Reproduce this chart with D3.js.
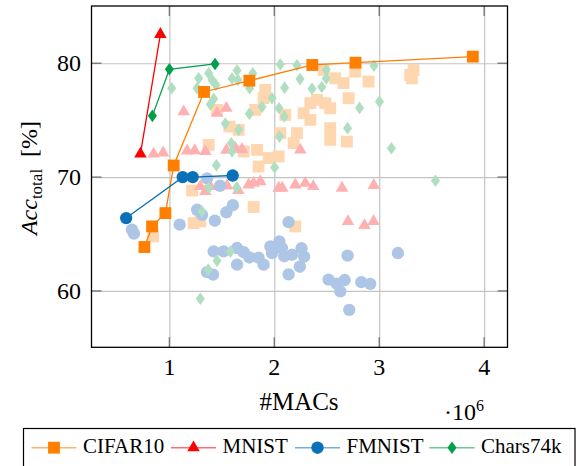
<!DOCTYPE html>
<html>
<head>
<meta charset="utf-8">
<script src="https://cdn.jsdelivr.net/npm/d3@7"></script>
<style>
  html, body { margin: 0; padding: 0; background: #fff; }
  svg { display: block; font-family: "Liberation Serif", "DejaVu Serif", serif; }
</style>
</head>
<body>
<svg id="chart" width="585" height="466"></svg>
<script>
// x values are MACs in millions (axis shows them with a 10^6 factor), y is total accuracy in %

// Pareto fronts (dark markers, joined by a line)
var cifarFront = [[0.762, 63.86], [0.835, 65.67], [0.962, 66.84], [1.041, 71.02], [1.330, 77.48],
  [1.762, 78.47], [2.362, 79.85], [2.774, 80.05], [3.892, 80.58]];
var mnistFront = [[0.724, 72.04], [0.914, 82.54]];
var fmnistFront = [[0.588, 66.40], [1.127, 70.00], [1.222, 70.00], [1.603, 70.14]];
var charsFront = [[0.838, 75.38], [1.000, 79.47], [1.435, 79.94]];

// all other evaluated networks (light markers)
var cifarAll = [[0.845, 64.79], [1.216, 68.82], [1.231, 65.96], [1.295, 66.11], [1.803, 67.37], [2.200, 65.67],
  [1.374, 72.83], [1.454, 75.90], [1.571, 74.44], [1.660, 74.15], [1.708, 72.25], [1.835, 72.39],
  [1.850, 70.93], [1.946, 71.67], [2.041, 71.81], [2.057, 73.86], [2.216, 73.86], [2.184, 72.98],
  [1.819, 75.90], [1.898, 76.93], [1.914, 77.66], [2.105, 75.46], [2.279, 75.61], [2.343, 75.03],
  [2.343, 76.49], [2.407, 76.78], [2.486, 76.49], [2.533, 76.05], [2.470, 79.41], [2.581, 78.68],
  [2.660, 78.25], [2.771, 79.26], [2.898, 78.39], [2.708, 76.93], [2.533, 74.30], [2.533, 73.27],
  [2.692, 73.12], [3.295, 78.97], [3.327, 79.41], [3.311, 78.68]];
var mnistAll = [[0.850, 72.04], [0.940, 72.13], [1.136, 75.75], [1.169, 72.31], [1.241, 72.33], [1.343, 72.25],
  [1.454, 75.61], [1.543, 76.05], [1.543, 72.37], [1.629, 72.54], [1.692, 72.44], [2.248, 72.39],
  [1.295, 69.18], [1.390, 69.18], [1.550, 69.24], [1.657, 68.84], [1.755, 69.32], [1.803, 69.47],
  [1.867, 69.61], [2.041, 69.04], [2.076, 69.04], [2.200, 69.32], [2.295, 69.47], [2.371, 69.18],
  [2.645, 69.04], [2.948, 69.28], [2.702, 66.11], [2.859, 65.75], [2.946, 66.12], [1.343, 68.75]];
var fmnistAll = [[0.643, 65.38], [0.662, 65.03], [1.098, 65.82], [1.264, 67.13], [1.311, 66.69], [1.433, 66.17],
  [1.543, 66.91], [1.605, 67.53], [1.359, 69.89], [1.483, 69.24], [1.422, 63.47], [1.517, 63.47],
  [1.645, 63.77], [1.708, 63.40], [1.762, 62.94], [1.850, 62.92], [1.898, 62.31], [1.645, 62.31],
  [1.359, 61.65], [1.416, 61.43], [1.962, 63.91], [2.048, 64.35], [2.073, 63.77], [1.978, 63.33],
  [2.095, 63.05], [2.169, 63.18], [2.259, 63.75], [2.284, 63.01], [2.243, 62.13], [2.136, 61.46],
  [2.136, 66.04], [2.517, 60.99], [2.595, 60.64], [2.670, 60.96], [2.629, 59.96], [2.698, 63.10],
  [2.829, 60.77], [2.914, 60.62], [2.714, 58.34], [3.178, 63.33]];
var charsAll = [[1.022, 77.81], [1.264, 77.81], [1.279, 78.68], [1.374, 79.12], [1.407, 78.54], [1.443, 78.10],
  [1.645, 79.37], [1.597, 78.66], [1.652, 78.54], [1.795, 79.12], [1.765, 77.81], [2.057, 79.89],
  [2.216, 79.82], [2.245, 78.61], [2.098, 77.86], [1.978, 76.93], [1.883, 76.17], [1.762, 75.57],
  [2.045, 76.05], [2.095, 75.32], [2.359, 77.76], [2.452, 77.92], [2.495, 78.67], [2.495, 79.41],
  [1.422, 76.87], [1.390, 76.39], [1.533, 74.70], [1.660, 74.15], [1.590, 72.98], [1.597, 72.25],
  [1.448, 71.04], [2.003, 70.84], [2.050, 73.56], [2.950, 79.78], [2.812, 76.08], [3.002, 76.63],
  [2.698, 74.30], [3.116, 72.54], [3.536, 69.68], [1.374, 69.04], [1.641, 69.08], [1.311, 66.98],
  [1.581, 63.45], [1.454, 62.66], [1.370, 61.87], [1.295, 59.32]];

var xTicks = [1, 2, 3, 4];
var yTicks = [60, 70, 80];
var legendNames = ['CIFAR10', 'MNIST', 'FMNIST', 'Chars74k'];

(function () {
  'use strict';

  var svg = d3.select('#chart');
  var plotLeft = 91.5, plotRight = 507.5, plotTop = 6, plotBottom = 347.3;

  var x = d3.scaleLinear().domain([0.2576, 4.2224]).range([plotLeft, plotRight]);
  var y = d3.scaleLinear().domain([55.05, 85.03]).range([plotBottom, plotTop]);

  // marker paths
  var diamond = function (s) {
    return 'M0,' + (-s) + 'L' + (s * 0.72) + ',0L0,' + s + 'L' + (-s * 0.72) + ',0Z';
  };
  var sq = d3.symbol().type(d3.symbolSquare);
  var tri = d3.symbol().type(d3.symbolTriangle);
  var circ = d3.symbol().type(d3.symbolCircle);

  var series = [
    {all: cifarAll, front: cifarFront, light: '#fed6b0', dark: '#ff7f00', leg: '#ffb46e', mark: function () { return sq.size(140)(); }},
    {all: mnistAll, front: mnistFront, light: '#ffb0b0', dark: '#ff0000', leg: '#ff6e6e', mark: function () { return tri.size(68)(); }},
    {all: fmnistAll, front: fmnistFront, light: '#aec6e6', dark: '#0a70b8', leg: '#74aedc', mark: function () { return circ.size(120)(); }},
    {all: charsAll, front: charsFront, light: '#b0dec0', dark: '#00a04a', leg: '#66cc92', mark: function () { return diamond(6.3); }}
  ];

  // grid
  svg.append('g')
    .attr('transform', 'translate(0,' + plotBottom + ')')
    .call(d3.axisBottom(x).tickValues(xTicks).tickSize(-(plotBottom - plotTop)).tickFormat(''))
    .call(function (g) {
      g.select('.domain').remove();
      g.selectAll('line').attr('stroke', '#c4c4c4').attr('stroke-width', 1.2);
    });
  svg.append('g')
    .attr('transform', 'translate(' + plotLeft + ',0)')
    .call(d3.axisLeft(y).tickValues(yTicks).tickSize(-(plotRight - plotLeft)).tickFormat(''))
    .call(function (g) {
      g.select('.domain').remove();
      g.selectAll('line').attr('stroke', '#c4c4c4').attr('stroke-width', 1.2);
    });

  // inner tick marks on all four sides
  var tickLen = 10;
  var ticks = svg.append('g').attr('stroke', '#7a7a7a').attr('stroke-width', 1.4);
  xTicks.forEach(function (t) {
    ticks.append('line').attr('x1', x(t)).attr('x2', x(t)).attr('y1', plotBottom).attr('y2', plotBottom - tickLen);
    ticks.append('line').attr('x1', x(t)).attr('x2', x(t)).attr('y1', plotTop).attr('y2', plotTop + tickLen);
  });
  yTicks.forEach(function (t) {
    ticks.append('line').attr('x1', plotLeft).attr('x2', plotLeft + tickLen).attr('y1', y(t)).attr('y2', y(t));
    ticks.append('line').attr('x1', plotRight).attr('x2', plotRight - tickLen).attr('y1', y(t)).attr('y2', y(t));
  });

  // light points
  series.forEach(function (s) {
    svg.append('g').selectAll('path')
      .data(s.all).enter()
      .append('path')
      .attr('transform', function (d) { return 'translate(' + x(d[0]) + ',' + y(d[1]) + ')'; })
      .attr('d', s.mark)
      .attr('fill', s.light);
  });

  // fronts
  var line = d3.line()
    .x(function (d) { return x(d[0]); })
    .y(function (d) { return y(d[1]); });
  series.forEach(function (s) {
    svg.append('path')
      .datum(s.front)
      .attr('d', line)
      .attr('fill', 'none')
      .attr('stroke', s.dark)
      .attr('stroke-width', 1.3);
    svg.append('g').selectAll('path')
      .data(s.front).enter()
      .append('path')
      .attr('transform', function (d) { return 'translate(' + x(d[0]) + ',' + y(d[1]) + ')'; })
      .attr('d', s.mark)
      .attr('fill', s.dark);
  });

  // frame
  svg.append('rect')
    .attr('x', plotLeft).attr('y', plotTop)
    .attr('width', plotRight - plotLeft).attr('height', plotBottom - plotTop)
    .attr('fill', 'none').attr('stroke', '#000').attr('stroke-width', 1.3);

  // tick labels
  svg.append('g').selectAll('text')
    .data(xTicks).enter()
    .append('text')
    .attr('x', function (d) { return x(d); })
    .attr('y', 375)
    .attr('text-anchor', 'middle')
    .attr('font-size', 24)
    .text(function (d) { return d; });
  svg.append('g').selectAll('text')
    .data(yTicks).enter()
    .append('text')
    .attr('x', 81)
    .attr('y', function (d) { return y(d); })
    .attr('dy', '0.34em')
    .attr('text-anchor', 'end')
    .attr('font-size', 24)
    .text(function (d) { return d; });

  // axis titles
  svg.append('text')
    .attr('x', 299).attr('y', 410)
    .attr('text-anchor', 'middle')
    .attr('font-size', 25)
    .text('#MACs');

  var mult = svg.append('text')
    .attr('x', 444).attr('y', 419.5)
    .attr('font-size', 24);
  mult.append('tspan').text('\u00b710');
  mult.append('tspan').attr('dy', -9).attr('font-size', 16).text('6');

  var ylab = svg.append('text')
    .attr('transform', 'translate(37,178) rotate(-90)')
    .attr('text-anchor', 'middle')
    .attr('font-size', 24);
  ylab.append('tspan').attr('font-style', 'italic').text('Acc');
  ylab.append('tspan').attr('font-size', 17).attr('dy', 5).text('total');
  ylab.append('tspan').attr('dy', -5).text('\u2002[%]');

  // legend
  var legend = svg.append('g');
  legend.append('rect')
    .attr('x', 23.5).attr('y', 428.5)
    .attr('width', 551.5).attr('height', 45)
    .attr('fill', '#fff').attr('stroke', '#000').attr('stroke-width', 1.2);

  var legX = [31.5, 171, 295, 429.5];
  legendNames.forEach(function (name, i) {
    var s = series[i];
    var g = legend.append('g').attr('transform', 'translate(' + legX[i] + ',447.7)');
    g.append('line')
      .attr('x1', 0).attr('x2', 45)
      .attr('stroke', s.leg).attr('stroke-width', 1.6);
    g.append('path')
      .attr('transform', 'translate(22.5,0)')
      .attr('d', s.mark)
      .attr('fill', s.dark);
    g.append('text')
      .attr('x', 51.5).attr('y', 5.6)
      .attr('font-size', 21)
      .text(name);
  });
})();
</script>
</body>
</html>
